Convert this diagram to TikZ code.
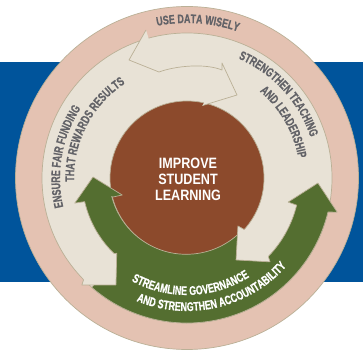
\documentclass[tikz,border=0pt]{standalone}
\usepackage{fontspec}
\usetikzlibrary{decorations.text}
\newfontfamily\cfont[FakeStretch=0.84]{Liberation Sans}
\newfontfamily\rfont[FakeStretch=0.71, FakeBold=0.6]{Liberation Sans}
\definecolor{bandblue}{RGB}{0,84,155}
\definecolor{ringpink}{RGB}{228,194,178}
\definecolor{ringbeige}{RGB}{232,226,214}
\definecolor{hubbrown}{RGB}{140,74,44}
\definecolor{arrowgreen}{RGB}{84,110,48}
\definecolor{edgetan}{RGB}{186,176,150}
\definecolor{txtgray}{RGB}{98,98,103}
\newcommand\ringfont{\rfont\bfseries\fontsize{12.5}{13}\selectfont}
\tikzset{
  edgeline/.style={draw=edgetan, line width=0.7pt, line join=round},
  graytext/.style={decorate, decoration={text along path, text align=center, text color=txtgray, text={|\ringfont|#1}}},
  whitetext/.style={decorate, decoration={text along path, text align=center, text color=white, text={|\ringfont|#1}}}
}
\begin{document}
\begin{tikzpicture}[x=1pt,y=1pt]
\useasboundingbox (0,0) rectangle (363,355);
\fill[white] (0,0) rectangle (363,355);
\fill[bandblue] (0,73) rectangle (363,293);
\begin{scope}[shift={(187,177)}]
  % rings
  \path[fill=ringpink, edgeline] (0,0) circle[radius=171.5pt];
  \path[fill=ringbeige, edgeline] (0,0) circle[radius=145pt];
  \path[fill=hubbrown, edgeline] (0,0) circle[radius=77pt];
\end{scope}
% top arrow (use data wisely)
\fill[ringbeige] (146,325)--(129,295)--(159,283)--cycle;
\fill[ringbeige] (222,285)--(222,292)--(237,260)--(202.4,249.4)--cycle;
\draw[edgeline] (146,325)--(129,295)--(159,283) .. controls (175,289) and (205,292) .. (222,285) -- (222,292) -- (237,260) -- (202.4,249.4);
\begin{scope}[shift={(187,177)}]
  % green double arrow
  \path[fill=arrowgreen, edgeline]
    (194.4:77pt) -- (194.7:67pt) -- (179.4:94pt) -- (192.6:115pt) -- (193:105pt)
    arc[start angle=193, end angle=227.5, radius=105pt]
    -- (229:145pt) arc[start angle=229, end angle=346.4, radius=145pt]
    -- (347.2:154pt) -- (357.8:131pt) -- (346.6:104pt) -- (346.1:113pt)
    arc[start angle=346.1, end angle=314.5, radius=113pt]
    -- (315:76pt) arc[start angle=315, end angle=194.4, radius=77pt] -- cycle;
  % left beige arrowhead
  \fill[ringbeige] (224.5:145pt) -- (225.5:150pt) -- (236.4:128.4pt) -- (227:103pt) -- (226:105pt) -- cycle;
  \draw[edgeline] (224.5:145pt) -- (225.5:150pt) -- (236.4:128.4pt) -- (227:103pt) -- (226:105pt);
  % right beige arrowhead
  \fill[ringbeige] (-42:77pt) -- (-43.3:70pt) -- (-59.1:95.5pt) -- (-45.3:118pt) -- (-44:113pt) -- cycle;
  \draw[edgeline] (-42:77pt) -- (-43.3:70pt) -- (-59.1:95.5pt) -- (-45.3:118pt) -- (-44:113pt);
  % ring texts
  \path[graytext={USE DATA WISELY}] (126:155pt) arc[start angle=126, end angle=46, radius=155pt];
  \path[graytext={ENSURE FAIR FUNDING}] (215:127pt) arc[start angle=215, end angle=125, radius=127pt];
  \path[graytext={THAT REWARDS RESULTS}] (200:113pt) arc[start angle=200, end angle=105, radius=113pt];
  \path[graytext={STRENGTHEN TEACHING}] (90:130pt) arc[start angle=90, end angle=-5, radius=130pt];
  \path[graytext={AND LEADERSHIP}] (75:113pt) arc[start angle=75, end angle=-15, radius=113pt];
  \path[whitetext={STREAMLINE GOVERNANCE}] (222:117pt) arc[start angle=222, end angle=322, radius=117pt];
  \path[whitetext={AND STRENGTHEN ACCOUNTABILITY}] (228:133pt) arc[start angle=228, end angle=338, radius=133pt];
\end{scope}
\node[text=white, font=\cfont\bfseries\fontsize{15}{16}\selectfont, align=center] (hub) at (188,175.5) {IMPROVE\\STUDENT\\LEARNING};
\end{tikzpicture}
\end{document}
